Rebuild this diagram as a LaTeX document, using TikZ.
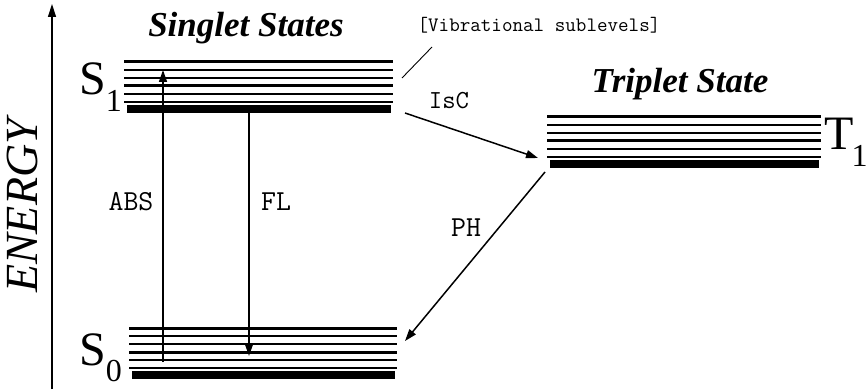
\documentclass[tikz,border=0pt]{standalone}
\usepackage{fontspec}
\setmainfont{Liberation Serif}
\usetikzlibrary{arrows.meta}
\tikzset{
  sublevel/.style={line width=1.4pt},
  mainlevel/.style={line width=3pt},
  groundline/.style={line width=7.5pt},
  trans/.style={-{Triangle[length=12pt, width=8pt]}, line width=1.5pt},
  axisarrow/.style={-{Triangle[length=13pt, width=8pt]}, line width=1.4pt},
  leader/.style={line width=0.9pt},
  statename/.style={font=\fontsize{35}{35}\selectfont\bfseries\itshape, anchor=base},
  statesym/.style={font=\fontsize{48}{48}\selectfont, anchor=base west, inner sep=0pt},
  translabel/.style={font=\fontsize{29}{29}\selectfont\ttfamily, anchor=base},
  energytxt/.style={font=\fontsize{46}{46}\selectfont\itshape, rotate=90},
}
\newcommand{\subsym}[1]{\raisebox{-17pt}{\fontsize{32}{32}\selectfont #1}}

\begin{document}
\begin{tikzpicture}[x=1pt, y=-1pt]
  \fill[white] (0,0) rectangle (868,390);
  \useasboundingbox (0,0) rectangle (868,390);

  % energy axis
  \coordinate (axisbot) at (52,389);
  \coordinate (axistop) at (52,4);
  \draw[axisarrow] (axisbot) -- (axistop);
  \node[energytxt] (energy) at (22,206) {ENERGY};

  % level stacks: S1, S0, T1
  \foreach \xl/\xr/\yt in {124/393/62, 129/397/328, 547/821/117} {
    \foreach \dy/\lw in {0/3, 8/1.4, 16/1.4, 24/3, 32/1.4, 40/1.4}
      \draw[line width=\lw pt] (\xl,\yt+\dy) -- (\xr,\yt+\dy);
    \draw[groundline] (\xl+3,\yt+47) -- (\xr-2,\yt+47);
  }

  \node[statename] (singlet) at (246,37) {Singlet States};
  \node[statename] (triplet) at (680,93) {Triplet State};
  \node[statesym] (s1) at (79,95) {S\subsym{1}};
  \node[statesym] (s0) at (79,365) {S\subsym{0}};
  \node[statesym] (t1) at (824,150) {T\kern-2pt\subsym{1}};

  \node[translabel, font=\fontsize{20.5}{20.5}\selectfont\ttfamily] (vib) at (539,32) {[Vibrational sublevels]};
  \coordinate (vibfoot) at (402,78);
  \coordinate (vibhead) at (432,47);
  \draw[leader] (vibfoot) -- (vibhead);

  % transitions
  \coordinate (absfrom) at (163,362);
  \coordinate (absto) at (163,70);
  \coordinate (flfrom) at (249,112);
  \coordinate (flto) at (249,356);
  \coordinate (iscfrom) at (405,113);
  \coordinate (iscto) at (538,158);
  \coordinate (phfrom) at (545,172);
  \coordinate (phto) at (405,341);

  \draw[trans] (absfrom) -- (absto);
  \draw[trans] (flfrom) -- (flto);
  \draw[trans] (iscfrom) -- (iscto);
  \draw[trans] (phfrom) -- (phto);

  \node[translabel] (abs) at (131,211) {ABS};
  \node[translabel] (fl) at (276,211) {FL};
  \node[translabel, font=\fontsize{26}{26}\selectfont\ttfamily] (isc) at (449,109) {IsC};
  \node[translabel] (ph) at (466,237) {PH};
\end{tikzpicture}
\end{document}
